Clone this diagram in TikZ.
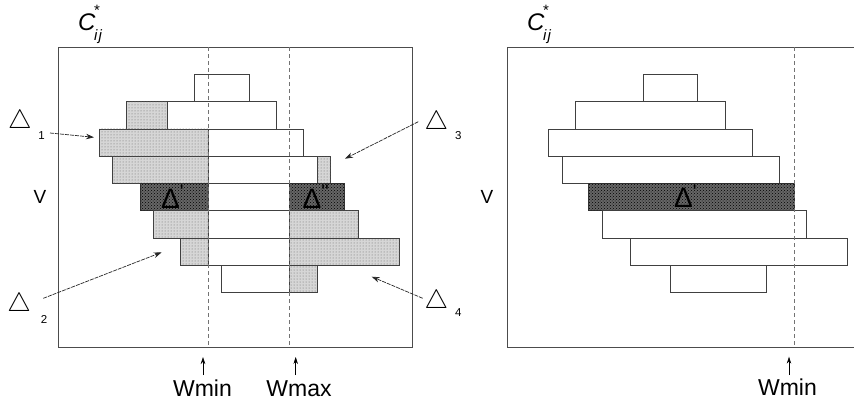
\documentclass[tikz,border=0pt]{standalone}
\usepackage{fontspec}
\usepackage{graphicx}
\setmainfont{Liberation Sans}
\usetikzlibrary{arrows.meta,patterns}
\tikzset{
  frame/.style={draw=black!70,line width=0.8pt},
  whitebar/.style={draw=black!75,line width=0.7pt},
  lightbar/.style={draw=black!75,line width=0.7pt,fill=black!16,postaction={pattern=dots,pattern color=black!60}},
  darkbar/.style={draw=black!80,line width=0.7pt,fill=black!60,postaction={pattern=crosshatch dots,pattern color=black}},
  wline/.style={draw=black!55,line width=0.6pt,dash pattern=on 4pt off 3pt},
  callout/.style={draw=black!85,line width=0.7pt,dash pattern=on 4pt off 1pt,-{Stealth[length=8pt,width=5.5pt]}},
  warrow/.style={draw=black,line width=0.6pt,-{Stealth[length=7pt,width=4.5pt]}},
  tri/.style={inner sep=0pt},
  idx/.style={inner sep=0pt,font=\fontsize{11.5}{12}\selectfont},
  wlab/.style={inner sep=0pt,anchor=base,font=\fontsize{23}{23}\selectfont},
  vlab/.style={inner sep=0pt,font=\fontsize{19}{19}\selectfont},
  dlab/.style={inner sep=0pt,anchor=base west,font=\fontsize{28}{28}\selectfont},
  clab/.style={inner sep=0pt,anchor=base west}
}
\newcommand{\cstarij}{{\fontsize{24}{24}\selectfont\itshape C}\kern-1.5pt\rlap{\raisebox{15pt}{\fontsize{15}{15}\selectfont *}}\raisebox{-10pt}{\fontsize{15}{15}\selectfont\itshape i\kern1.2pt j}}
\begin{document}
\begin{tikzpicture}[x=1pt,y=-1pt]
\useasboundingbox (0,0) rectangle (854,402);
% ---------------- left panel ----------------
\draw[frame] (58.3,47.3) rectangle (412,347.3);
% row 1
\draw[whitebar] (194.3,74.3) rectangle (249.3,101.6);
% row 2
\draw[lightbar] (126.7,101.6) rectangle (167.3,128.9);
\draw[whitebar] (167.3,101.6) rectangle (276.3,128.9);
% row 3
\draw[lightbar] (99.3,128.9) rectangle (208.3,156.2);
\draw[whitebar] (208.3,128.9) rectangle (303.3,156.2);
% row 4
\draw[lightbar] (112.7,156.2) rectangle (208.3,183.5);
\draw[whitebar] (208.3,156.2) rectangle (317,183.5);
\draw[lightbar] (317,156.2) rectangle (330.7,183.5);
% row 5
\draw[darkbar] (140,183.5) rectangle (208.3,210.8);
\draw[whitebar] (208.3,183.5) rectangle (289.7,210.8);
\draw[darkbar] (289.7,183.5) rectangle (344.3,210.8);
% row 6
\draw[lightbar] (153.3,210.8) rectangle (208.3,238.1);
\draw[whitebar] (208.3,210.8) rectangle (289.7,238.1);
\draw[lightbar] (289.7,210.8) rectangle (358.3,238.1);
% row 7
\draw[lightbar] (180.7,238.1) rectangle (208.3,265.4);
\draw[whitebar] (208.3,238.1) rectangle (289.7,265.4);
\draw[lightbar] (289.7,238.1) rectangle (399.3,265.4);
% row 8
\draw[whitebar] (221.7,265.4) rectangle (289.7,292.7);
\draw[lightbar] (289.7,265.4) rectangle (317.3,292.7);
% Wmin / Wmax lines
\draw[wline] (208.3,47.3) -- (208.3,347.3);
\draw[wline] (289.7,47.3) -- (289.7,347.3);
% labels
\node[clab] (cl) at (78,30) {\cstarij};
\node[vlab] (vl) at (40,197) {V};
\node[dlab] (dp1) at (161,208) {Δ\textsuperscript{\textquotesingle}};
\node[dlab] (dp2) at (302.5,208) {Δ\textsuperscript{\textquotesingle\textquotesingle}};
% delta callouts
\node[tri] (t1) at (20,121.7) {\scalebox{2.65}{$\triangle$}};
\node[idx] (n1) at (41.5,136) {1};
\node[tri] (t2) at (19.2,305) {\scalebox{2.65}{$\triangle$}};
\node[idx] (n2) at (44,319.5) {2};
\node[tri] (t3) at (436.3,122.7) {\scalebox{2.65}{$\triangle$}};
\node[idx] (n3) at (458.3,136) {3};
\node[tri] (t4) at (436.3,302) {\scalebox{2.65}{$\triangle$}};
\node[idx] (n4) at (458.3,313) {4};
\coordinate (a1s) at (50,133);    \coordinate (a1e) at (94,137.3);
\coordinate (a2s) at (43.3,298.3); \coordinate (a2e) at (161.7,252.3);
\coordinate (a3s) at (418.3,121.7); \coordinate (a3e) at (345,158.7);
\coordinate (a4s) at (422.7,298.3); \coordinate (a4e) at (371.7,276.7);
\draw[callout] (a1s) -- (a1e);
\draw[callout] (a2s) -- (a2e);
\draw[callout] (a3s) -- (a3e);
\draw[callout] (a4s) -- (a4e);
% W labels
\node[wlab] (wminl) at (202.5,396) {Wmin};
\node[wlab] (wmaxl) at (299,396) {Wmax};
\coordinate (wa1) at (203,375); \coordinate (wb1) at (203,357);
\coordinate (wa2) at (295.7,375); \coordinate (wb2) at (295.7,357);
\draw[warrow] (wa1) -- (wb1);
\draw[warrow] (wa2) -- (wb2);
% ---------------- right panel ----------------
\draw[frame] (854,47.3) -- (507.3,47.3) -- (507.3,347.3) -- (854,347.3);
\draw[whitebar] (643.3,74.3) rectangle (697.7,101.6);
\draw[whitebar] (575.3,101.6) rectangle (725.3,128.9);
\draw[whitebar] (548,128.9) rectangle (752.3,156.2);
\draw[whitebar] (562,156.2) rectangle (779.3,183.5);
\draw[darkbar] (588.7,183.5) rectangle (794,210.8);
\draw[whitebar] (602.7,210.8) rectangle (806.7,238.1);
\draw[whitebar] (630,238.1) rectangle (847.7,265.4);
\draw[whitebar] (670.3,265.4) rectangle (766.3,292.7);
\draw[wline] (794,47.3) -- (794,347.3);
\node[clab] (cr) at (527,30) {\cstarij};
\node[vlab] (vr) at (487,197) {V};
\node[dlab] (dpr) at (674,207.5) {Δ\textsuperscript{\textquotesingle}};
\node[wlab] (wminr) at (787.5,395) {Wmin};
\coordinate (wa3) at (789,375); \coordinate (wb3) at (789,356.7);
\draw[warrow] (wa3) -- (wb3);
\end{tikzpicture}
\end{document}
